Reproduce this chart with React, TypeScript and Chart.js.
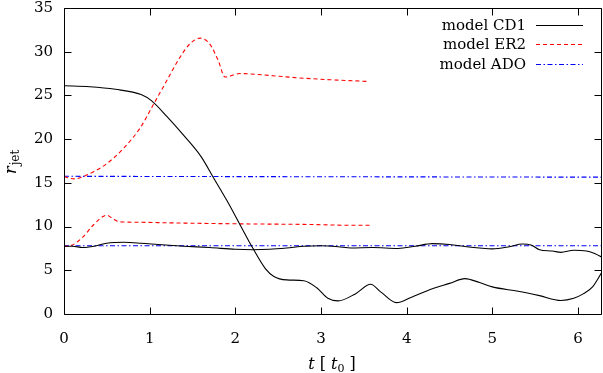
import React, { useEffect, useRef } from "react";
import { Chart, registerables } from "chart.js";

Chart.register(...registerables);

const FONT = "'DejaVu Serif', serif";

const X_MIN = 0;
const X_MAX = 6.28;
const Y_MIN = 0;
const Y_MAX = 35;
const X_TICKS = [0, 1, 2, 3, 4, 5, 6];
const Y_TICKS = [0, 5, 10, 15, 20, 25, 30, 35];

const LEGEND_LABELS = ["model CD1", "model ER2", "model ADO"];

// model CD1, curve that collapses
const cd1aT = [0, 0.3, 0.6, 0.9, 1.02, 1.2, 1.4, 1.6, 1.75, 1.9, 2.05, 2.2, 2.35, 2.45, 2.6, 2.8, 2.95, 3.08, 3.2, 3.4, 3.58, 3.7, 3.88, 4.05, 4.3, 4.5, 4.68, 4.85, 5.0, 5.3, 5.55, 5.8, 5.95, 6.06, 6.17, 6.28];
const cd1aR = [26.1, 26.0, 25.7, 25.1, 24.4, 22.6, 20.4, 18.0, 15.5, 13.0, 10.3, 7.6, 5.2, 4.3, 3.9, 3.8, 3.0, 1.8, 1.5, 2.3, 3.4, 2.5, 1.3, 1.9, 2.9, 3.5, 4.05, 3.6, 3.1, 2.6, 2.1, 1.55, 1.8, 2.3, 3.1, 4.8];
// model CD1, curve near 7.8
const cd1bT = [0, 0.1, 0.22, 0.35, 0.5, 0.7, 0.9, 1.1, 1.4, 1.7, 2.0, 2.2, 2.4, 2.6, 2.8, 3.0, 3.2, 3.35, 3.6, 3.9, 4.1, 4.3, 4.5, 4.7, 4.85, 5.0, 5.2, 5.35, 5.45, 5.55, 5.7, 5.8, 5.95, 6.1, 6.2, 6.28];
const cd1bR = [7.75, 7.75, 7.6, 7.75, 8.1, 8.2, 8.1, 7.95, 7.75, 7.6, 7.4, 7.35, 7.4, 7.55, 7.75, 7.8, 7.7, 7.55, 7.6, 7.5, 7.75, 8.05, 7.95, 7.7, 7.55, 7.45, 7.7, 8.0, 7.9, 7.35, 7.2, 7.05, 7.3, 7.2, 6.9, 6.5];
// model ER2, upper curve
const er2aT = [0, 0.12, 0.22, 0.35, 0.5, 0.69, 0.89, 1.04, 1.2, 1.35, 1.47, 1.59, 1.7, 1.8, 1.88, 2.05, 2.44, 2.75, 3.1, 3.55];
const er2aR = [15.7, 15.45, 15.7, 16.3, 17.2, 18.9, 21.3, 23.9, 26.7, 29.3, 30.9, 31.55, 30.9, 29.0, 27.1, 27.5, 27.25, 27.0, 26.8, 26.6];
// model ER2, lower curve
const er2bT = [0, 0.07, 0.22, 0.34, 0.5, 0.57, 0.65, 0.81, 1.39, 2.17, 2.8, 3.34, 3.58];
const er2bR = [7.75, 7.8, 8.8, 10.15, 11.3, 10.9, 10.55, 10.5, 10.4, 10.3, 10.25, 10.15, 10.15];
// model ADO
const adoaT = [0, 3.0, 6.28];
const adoaR = [15.75, 15.7, 15.65];
const adobT = [0, 3.0, 6.28];
const adobR = [7.8, 7.8, 7.8];

const pts = (t: number[], r: number[]) => t.map((v, i) => ({ x: v, y: r[i] }));

const BLACK = "#000000";
const RED = "#ff0000";
const BLUE = "#0000ff";
const RED_DASH = [4, 3];
const BLUE_DASH = [5, 2.5, 1.5, 2.5];

const framePlugin = {
  id: "frameTicks",
  afterDatasetsDraw(chart: any) {
    const { ctx, chartArea: a, scales } = chart;
    const xs = scales.x;
    const ys = scales.y;
    ctx.save();
    ctx.strokeStyle = "#000";
    ctx.lineWidth = 1;
    ctx.setLineDash([]);
    ctx.beginPath();
    const L = Math.round(a.left) + 0.5;
    const R = Math.round(a.right) - 0.5;
    const T = Math.round(a.top) + 0.5;
    const B = Math.round(a.bottom) + 0.5;
    ctx.rect(L, T, R - L, B - T);
    const tl = 7;
    X_TICKS.forEach((v) => {
      const px = Math.round(xs.getPixelForValue(v)) + 0.5;
      ctx.moveTo(px, B);
      ctx.lineTo(px, B - tl);
      ctx.moveTo(px, T);
      ctx.lineTo(px, T + tl);
    });
    Y_TICKS.forEach((v) => {
      const py = Math.round(ys.getPixelForValue(v)) + 0.5;
      ctx.moveTo(L, py);
      ctx.lineTo(L + tl, py);
      ctx.moveTo(R, py);
      ctx.lineTo(R - tl, py);
    });
    ctx.stroke();

    // legend
    const legendColors = [BLACK, RED, BLUE];
    const legendDash = [[], RED_DASH, BLUE_DASH];
    const rowY = [25, 44, 64];
    ctx.font = `15px ${FONT}`;
    ctx.textAlign = "right";
    ctx.textBaseline = "middle";
    LEGEND_LABELS.forEach((lab, i) => {
      ctx.fillStyle = "#000";
      ctx.fillText(lab, 526, rowY[i] + 1);
      ctx.save();
      ctx.beginPath();
      ctx.strokeStyle = legendColors[i];
      ctx.lineWidth = 1.1;
      ctx.setLineDash(legendDash[i]);
      ctx.moveTo(536, rowY[i] + 0.5);
      ctx.lineTo(583, rowY[i] + 0.5);
      ctx.stroke();
      ctx.restore();
    });
    ctx.setLineDash([]);

    // y title: r_jet (rotated)
    ctx.fillStyle = "#000";
    ctx.save();
    ctx.translate(16, 174);
    ctx.rotate(-Math.PI / 2);
    ctx.textAlign = "left";
    ctx.textBaseline = "alphabetic";
    ctx.font = `italic 16px ${FONT}`;
    ctx.fillText("r", 0, 0);
    const rw = ctx.measureText("r").width;
    ctx.font = `12px ${FONT}`;
    ctx.fillText("jet", rw + 1, 3);
    ctx.restore();

    // x title: t [ t_0 ]
    ctx.textBaseline = "alphabetic";
    ctx.textAlign = "left";
    const parts: [string, string, number][] = [
      ["t", `italic 16px ${FONT}`, 0],
      [" [ ", `16px ${FONT}`, 0],
      ["t", `italic 16px ${FONT}`, 0],
      ["0", `11px ${FONT}`, 3],
      [" ]", `16px ${FONT}`, 0],
    ];
    let total = 0;
    parts.forEach(([s, f]) => {
      ctx.font = f;
      total += ctx.measureText(s).width;
    });
    let x = 332 - total / 2;
    parts.forEach(([s, f, dy]) => {
      ctx.font = f;
      ctx.fillText(s, x, 369 + dy);
      x += ctx.measureText(s).width;
    });
    ctx.restore();
  },
};

export default function App() {
  const ref = useRef<HTMLCanvasElement | null>(null);
  useEffect(() => {
    if (!ref.current) return;
    const common = { pointRadius: 0, borderWidth: 1.1, fill: false, cubicInterpolationMode: "monotone" as const };
    const chart = new Chart(ref.current, {
      type: "line",
      data: {
        datasets: [
          { ...common, label: "model CD1", data: pts(cd1aT, cd1aR), borderColor: BLACK },
          { ...common, label: "model CD1 b", data: pts(cd1bT, cd1bR), borderColor: BLACK },
          { ...common, label: "model ER2", data: pts(er2aT, er2aR), borderColor: RED, borderDash: RED_DASH },
          { ...common, label: "model ER2 b", data: pts(er2bT, er2bR), borderColor: RED, borderDash: RED_DASH },
          { ...common, label: "model ADO", data: pts(adoaT, adoaR), borderColor: BLUE, borderDash: BLUE_DASH },
          { ...common, label: "model ADO b", data: pts(adobT, adobR), borderColor: BLUE, borderDash: BLUE_DASH },
        ],
      },
      options: {
        animation: false,
        responsive: false,
        devicePixelRatio: 1,
        layout: { padding: { top: 8, right: 1, left: 0, bottom: 0 } },
        plugins: { legend: { display: false }, tooltip: { enabled: false } },
        scales: {
          x: {
            type: "linear",
            min: X_MIN,
            max: X_MAX,
            afterFit: (s: any) => { s.height = 59; s.paddingLeft = 0; s.paddingRight = 0; },
            afterBuildTicks: (s: any) => { s.ticks = X_TICKS.map((v) => ({ value: v })); },
            grid: { display: false, drawTicks: false },
            border: { display: false },
            ticks: { color: "#000", font: { family: FONT, size: 15 }, padding: 16, maxRotation: 0 },
          },
          y: {
            type: "linear",
            min: Y_MIN,
            max: Y_MAX,
            afterFit: (s: any) => { s.width = 64; s.paddingTop = 0; s.paddingBottom = 0; },
            afterBuildTicks: (s: any) => { s.ticks = Y_TICKS.map((v) => ({ value: v })); },
            grid: { display: false, drawTicks: false },
            border: { display: false },
            ticks: { color: "#000", font: { family: FONT, size: 15 }, padding: 11 },
          },
        },
      },
      plugins: [framePlugin],
    });
    return () => chart.destroy();
  }, []);
  return (
    <div style={{ position: "fixed", left: 0, top: 0, width: 603, height: 373, background: "#fff" }}>
      <canvas ref={ref} width={603} height={373} style={{ display: "block" }} />
    </div>
  );
}
